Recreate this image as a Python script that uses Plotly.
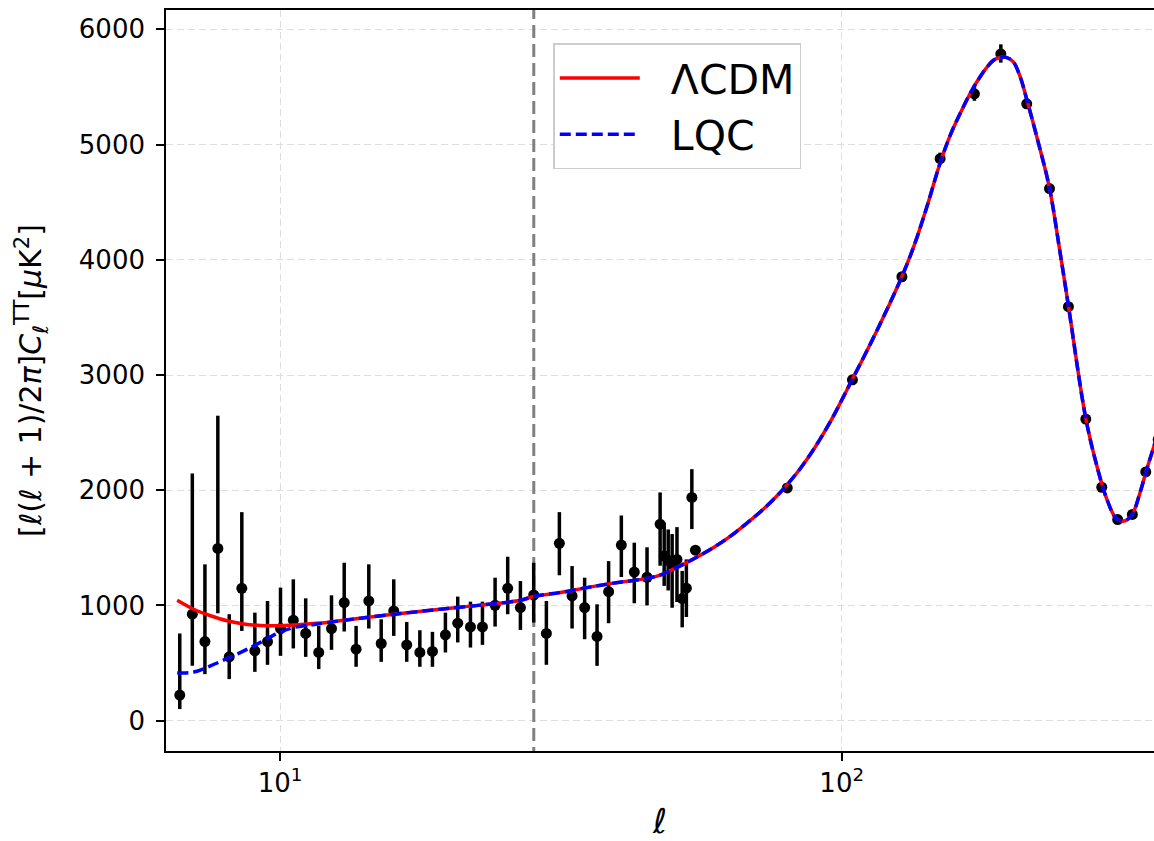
import plotly.graph_objects as go

# --- Observed band powers (multipole, D_ell, upper/lower error-bar ends) ---
ell_obs = [6.63, 6.98, 7.35, 7.75, 8.12, 8.55, 9.02, 9.50, 10.02, 10.56,
           11.11, 11.72, 12.35, 13.01, 13.66, 14.39, 15.14, 15.94, 16.81, 17.74,
           18.68, 19.70, 20.72, 21.83, 22.93, 24.15, 25.43, 26.79, 28.29, 29.80,
           31.43, 33.11, 34.86, 36.68, 38.46, 40.52, 42.73, 45.02, 47.5, 48.3,
           49.1, 49.9, 50.9, 52.0, 52.9, 54.1, 54.9, 80.0, 104.5, 128.0,
           149.7, 172.3, 192.0, 213.5, 234.4, 253.3, 272.0, 290.4, 310.0, 329.2,
           347.8, 366.0]
dl_obs = [222, 924, 687, 1495, 554, 1149, 606, 687, 800, 872,
          757, 592, 800, 1025, 621, 1039, 670, 952, 658, 592,
          601, 745, 846, 814, 814, 1002, 1149, 982, 1091, 757,
          1539, 1083, 982, 731, 1120, 1524, 1290, 1245, 1706, 1430,
          1390, 1360, 1400, 1060, 1150, 1938, 1480, 2020, 2958, 3853,
          4878, 5441, 5787, 5354, 4618, 3593, 2618, 2026, 1746, 1790,
          2159, 2440]
dl_top = [757, 2145, 1357, 2647, 924, 1810, 938, 1039, 1155, 1227,
          1062, 823, 1088, 1371, 823, 1357, 880, 1227, 857, 785,
          771, 938, 1077, 1033, 1033, 1241, 1423, 1212, 1371, 1039,
          1810, 1342, 1241, 1010, 1385, 1781, 1545, 1505, 1981, 1720,
          1660, 1620, 1680, 1300, 1400, 2183, 1510, 2050, 2990, 3890,
          4930, 5510, 5870, 5400, 4650, 3625, 2640, 2045, 1765, 1808,
          2178, 2460]
dl_bottom = [101, 476, 404, 932, 361, 779, 424, 485, 563, 627,
             554, 448, 615, 774, 468, 800, 511, 736, 511, 468,
             468, 592, 679, 635, 658, 817, 924, 788, 852, 485,
             1262, 800, 707, 476, 846, 1247, 1019, 1000, 1345, 1170,
             1130, 980, 1030, 810, 900, 1663, 1450, 1990, 2926, 3816,
             4826, 5380, 5711, 5310, 4585, 3560, 2596, 2007, 1727, 1772,
             2140, 2420]

# --- Model spectra sampled on a common multipole grid ---
ell_model = [6.56, 7.02, 7.52, 8.05, 8.62, 9.23, 9.89, 10.58, 11.33, 12.13,
             13.91, 16.39, 19.30, 22.74, 26.79, 28.29, 31.56, 35.21, 39.26, 45.02,
             47.53, 50.19, 53.04, 59.15, 63.3, 67.82, 72.5, 77.71, 79.98, 84.4,
             89.72, 95.4, 100.7, 104.5, 110.1, 115.5, 121.5, 128.0, 134.6, 141.8,
             149.7, 156.0, 162.5, 171.6, 181.3, 186.1, 191.4, 196.2, 201.9, 207.8,
             213.5, 223.9, 234.3, 244.8, 253.3, 272.0, 284.6, 296.5, 308.9, 319.5,
             329.2, 339.8, 349.3, 359.8, 376.3]
dl_lcdm = [1045, 967, 911, 867, 839, 826, 824, 830, 842, 853,
           890, 930, 968, 1003, 1045, 1079, 1112, 1155, 1194, 1235,
           1264, 1316, 1374, 1504, 1600, 1715, 1835, 1981, 2049, 2189,
           2376, 2593, 2810, 2965, 3180, 3385, 3610, 3855, 4125, 4460,
           4840, 5080, 5270, 5495, 5670, 5730, 5756, 5757, 5720, 5590,
           5393, 5017, 4627, 4063, 3600, 2623, 2212, 1923, 1749, 1735,
           1793, 1981, 2183, 2385, 2700]
dl_lqc = [415, 422, 476, 540, 606, 680, 757, 809, 830, 851,
          890, 930, 968, 1003, 1045, 1079, 1112, 1155, 1194, 1235,
          1264, 1316, 1374, 1504, 1600, 1715, 1835, 1981, 2049, 2189,
          2376, 2593, 2810, 2965, 3180, 3385, 3610, 3855, 4125, 4460,
          4840, 5080, 5270, 5495, 5670, 5730, 5756, 5757, 5720, 5590,
          5393, 5017, 4627, 4063, 3600, 2623, 2212, 1923, 1749, 1735,
          1793, 1981, 2183, 2385, 2700]

ell_pivot = 28.3
y_ticks = [0, 1000, 2000, 3000, 4000, 5000, 6000]
x_ticks = [10, 100]
x_tick_text = ["10<sup>1</sup>", "10<sup>2</sup>"]

FONT = "DejaVu Sans"
GRID = "#dedede"
PAD = "\u00a0\u00a0"

err_plus = [t - v for t, v in zip(dl_top, dl_obs)]
err_minus = [v - b for v, b in zip(dl_obs, dl_bottom)]

fig = go.Figure()

# pivot-scale marker
fig.add_trace(go.Scatter(
    x=[ell_pivot, ell_pivot], y=[-1000, 7000], mode="lines",
    line=dict(color="#808080", width=3, dash="13px,6px"),
    showlegend=False, hoverinfo="skip"))

# data with asymmetric error bars
fig.add_trace(go.Scatter(
    x=ell_obs, y=dl_obs, mode="markers",
    marker=dict(color="black", size=11),
    error_y=dict(type="data", symmetric=False, array=err_plus,
                 arrayminus=err_minus, color="black", thickness=3.5, width=0),
    showlegend=False))

fig.add_trace(go.Scatter(
    x=ell_model, y=dl_lcdm, mode="lines", name=PAD + "ΛCDM",
    line=dict(color="#ff0000", width=3.5, shape="spline", smoothing=1.0)))

fig.add_trace(go.Scatter(
    x=ell_model, y=dl_lqc, mode="lines", name=PAD + "LQC",
    line=dict(color="#0000ff", width=3.5, dash="11px,5px",
              shape="spline", smoothing=1.0)))

fig.update_layout(
    width=1154, height=841,
    margin=dict(l=166, r=0, t=10, b=90),
    paper_bgcolor="white", plot_bgcolor="white",
    font=dict(family=FONT, color="black", size=26),
    legend=dict(
        x=0.392, y=0.955, xanchor="left", yanchor="top",
        bgcolor="white", bordercolor="#cccccc", borderwidth=1.5,
        font=dict(family=FONT, size=41, color="black"),
        itemwidth=80),
)

fig.update_xaxes(
    type="log", range=[0.797, 2.556],
    tickvals=x_ticks, ticktext=x_tick_text,
    ticks="outside", ticklen=8, tickwidth=1.5, tickcolor="black",
    tickfont=dict(family=FONT, size=26),
    showline=True, linecolor="black", linewidth=1.6, mirror=True,
    showgrid=True, gridcolor=GRID, gridwidth=1.2, griddash="7px,4px",
    zeroline=False,
    title=dict(text="<i>ℓ</i>", font=dict(family=FONT, size=34), standoff=14),
)

fig.update_yaxes(
    range=[-263, 6168],
    tickvals=y_ticks,
    ticks="outside", ticklen=8, tickwidth=1.5, tickcolor="black",
    tickfont=dict(family=FONT, size=26), ticklabelstandoff=6,
    showline=True, linecolor="black", linewidth=1.6, mirror=False,
    showgrid=True, gridcolor=GRID, gridwidth=1.2, griddash="7px,4px",
    zeroline=False,
    title=dict(text="[<i>ℓ</i>(<i>ℓ</i> + 1)/2<i>π</i>]<i>C</i><sub><i>ℓ</i></sub>"
                    "<sup>TT</sup>[<i>μ</i>K<sup>2</sup>]",
               font=dict(family=FONT, size=30), standoff=28),
)

fig.write_html("out.html")
